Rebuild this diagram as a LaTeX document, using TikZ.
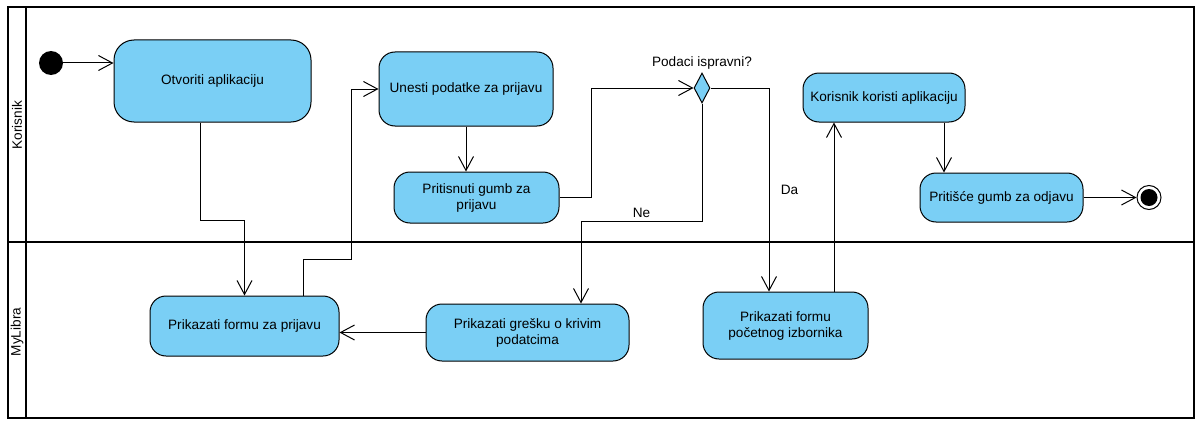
\documentclass[tikz,border=0pt]{standalone}
\usepackage{fontspec}
\setmainfont{Liberation Sans}
\usetikzlibrary{shapes.geometric, arrows.meta, positioning}
\definecolor{actblue}{RGB}{122,207,245}
\tikzset{
flow/.style={->, line width=1pt}, % directed edges between the actions
>={Straight Barb[length=14pt, width=15pt]}, % open arrow heads
action/.style={draw, line width=1pt, fill=actblue, rounded corners=16pt, align=center, inner sep=0pt}, % every activity box
decision/.style={diamond, draw, line width=1pt, fill=actblue, minimum width=16pt, minimum height=30pt, inner sep=0pt}, % the branching point
initial dot/.style={circle, fill=black, minimum size=24pt, inner sep=0pt}, % start of the flow
final/.style={circle, draw, line width=1pt, fill=white, minimum size=24pt, inner sep=0pt,
  path picture={\fill[black] (path picture bounding box.center) circle (8.5pt);}}, % end of the flow
lane/.style={line width=1.5pt}, % outer frame
divider/.style={line width=2.5pt}, % lane separators
}
\begin{document}
\begin{tikzpicture}[x=1pt, y=-1pt, font=\fontsize{13.6}{16}\selectfont]
                \useasboundingbox (0,0) rectangle (1201,428);
                % swimlanes
                \draw[lane] (8,7) rectangle (1194,418);
                \draw[divider] (26,7) -- (26,418);
                \draw[divider] (8,242) -- (1194,242);
                \node[rotate=90] (laneK) at (17,125) {Korisnik};
                \node[rotate=90] (laneM) at (17,332) {MyLibra};

                \node[initial dot] (start) at (51,63) {};
                \node[action, minimum width=197pt, minimum height=82pt, rounded corners=20pt] (otv) at (212.5,81) {Otvoriti aplikaciju};
                \node[action, minimum width=174pt, minimum height=74pt] (unesti) at (466,89) {Unesti podatke za prijavu};
                \node[action, minimum width=165pt, minimum height=51pt] (prit) at (476.5,197.5) {Pritisnuti gumb za\\prijavu};
                \node[decision, label={[label distance=0pt]above:Podaci ispravni?}] (dia) at (702,88) {};
                \node[action, minimum width=162pt, minimum height=49pt] (kor) at (884,97.5) {Korisnik koristi aplikaciju};
                \node[action, minimum width=163pt, minimum height=49pt] (odj) at (1001.5,197.5) {Pritišće gumb za odjavu};
                \node[final, right=53pt of odj] (end) {};
                \node[action, minimum width=189pt, minimum height=60pt] (pf) at (244.5,326) {Prikazati formu za prijavu};
                \node[action, minimum width=203pt, minimum height=57pt] (gre) at (527.5,332.5) {Prikazati grešku o krivim\\podatcima};
                \node[action, minimum width=165pt, minimum height=67pt] (poc) at (785.5,325.5) {Prikazati formu\\početnog izbornika};

                \draw[flow] (start) -- (start -| otv.west);
                \draw[flow] ([xshift=-12.5pt]otv.south) -- ++(0,98) -| (pf.north);
                \draw[flow] ([xshift=58.5pt]pf.north) -- ++(0,-36) -- ++(48,0) |- (unesti.west);
                \draw[flow] (unesti.south) -- (unesti.south |- prit.north);
                \draw[flow] (prit.east) -- ++(32,0) |- (dia.west);
                \draw[flow] (dia.east) -| node[pos=0.75, right, xshift=8pt] {Da} ([xshift=-16.5pt]poc.north);
                \draw[flow] (dia.south) -- ++(0,118) -| node[pos=0.25, above] {Ne} ([xshift=53.5pt]gre.north);
                \draw[flow] (gre.west) -- (gre.west -| pf.east);
                \draw[flow] ([xshift=48.5pt]poc.north) -- ([xshift=48.5pt]poc.north |- kor.south);
                \draw[flow] ([xshift=60pt]kor.south) -- ([xshift=60pt]kor.south |- odj.north);
                \draw[flow] (odj.east) -- (end);
                \end{tikzpicture}
\end{document}
